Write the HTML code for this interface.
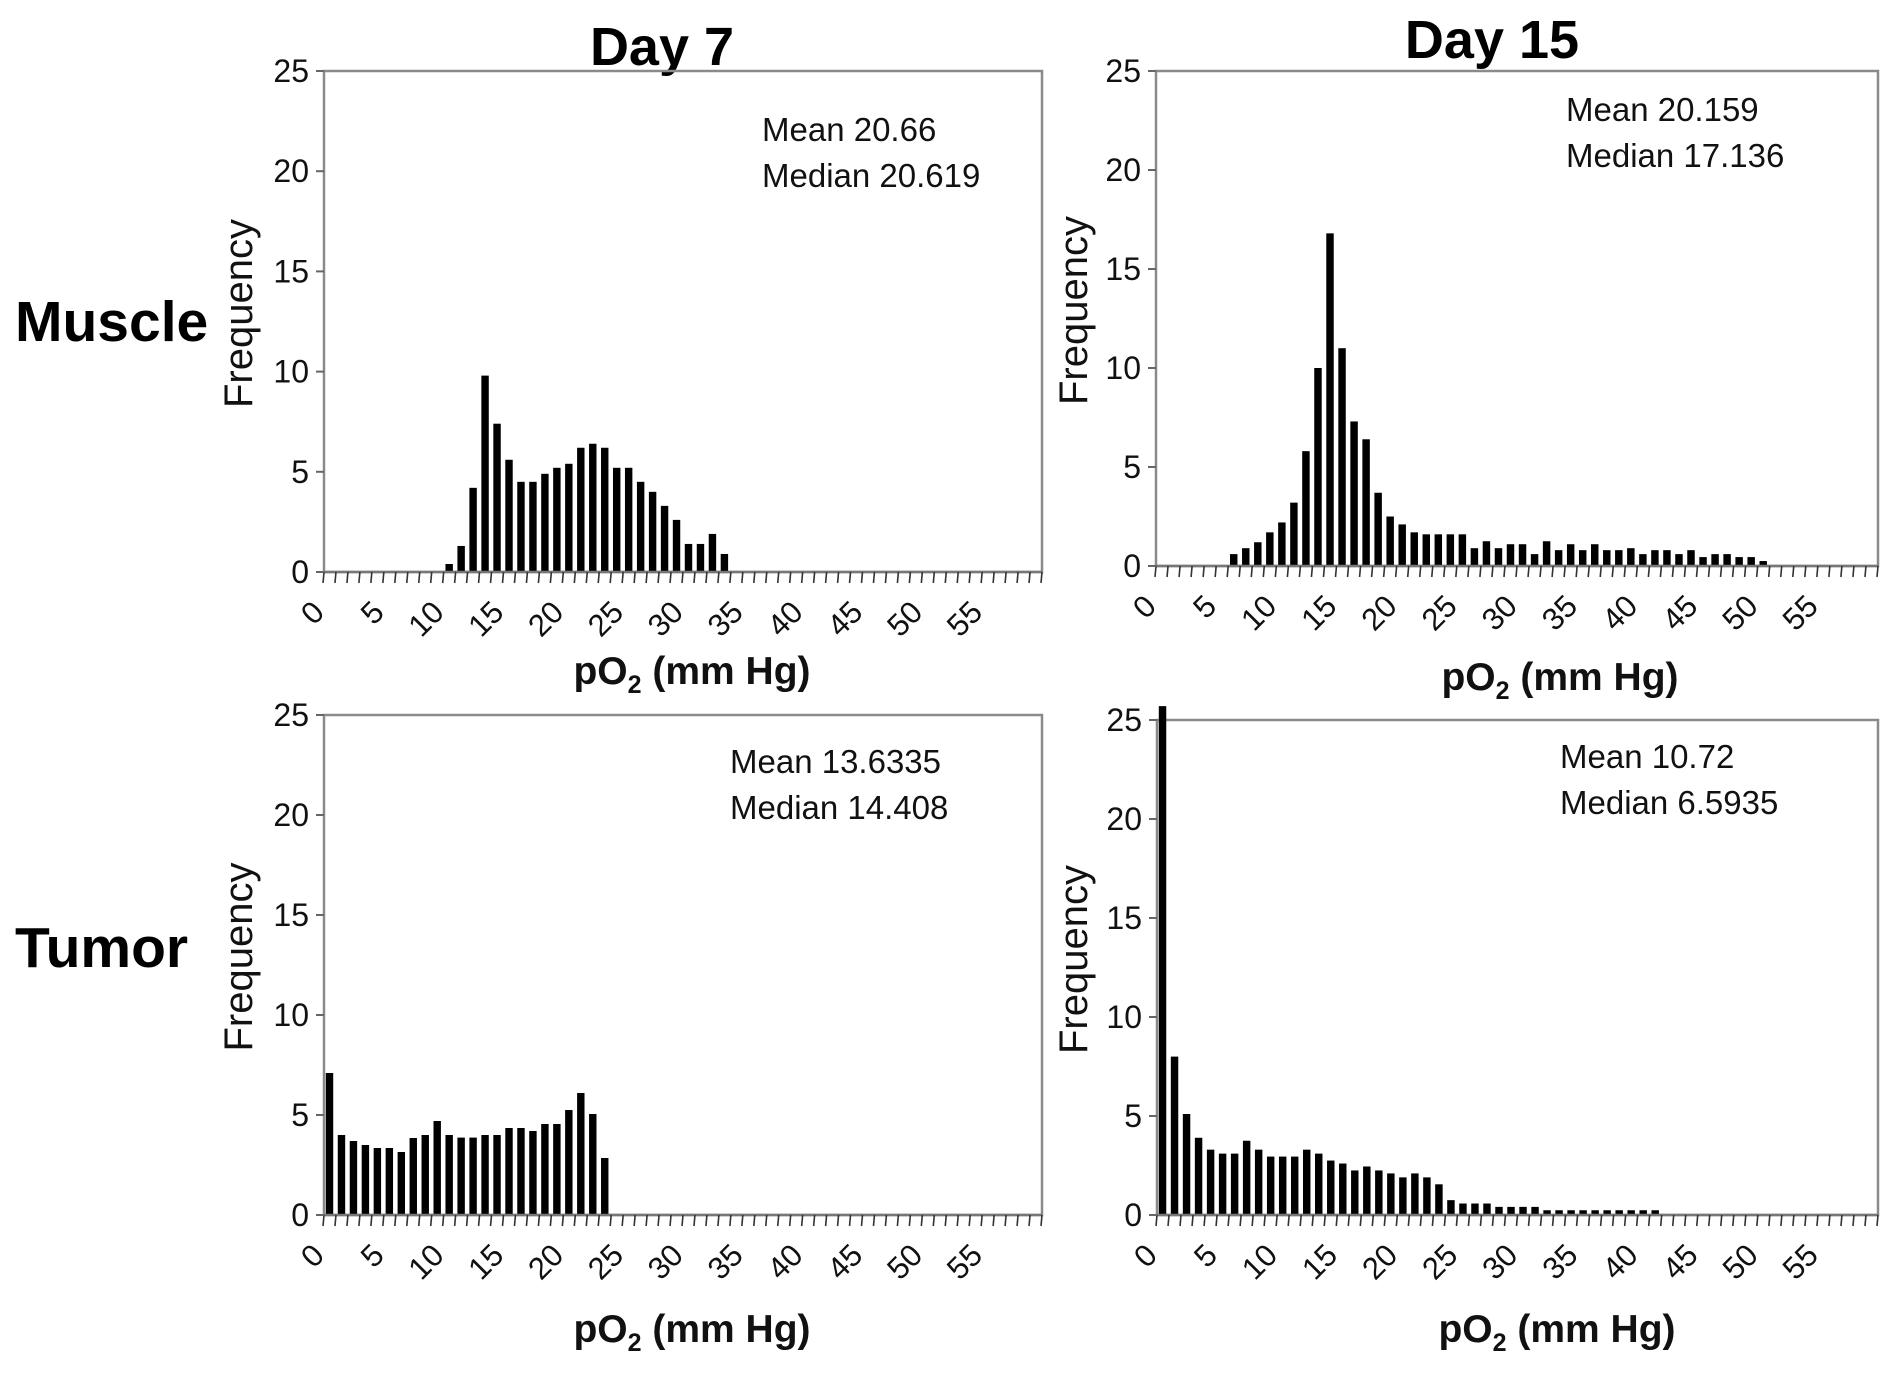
<!DOCTYPE html>
<html><head><meta charset="utf-8">
<style>
html,body{margin:0;padding:0;background:#fff;}
svg{display:block;font-family:"Liberation Sans",Arial,sans-serif;}
</style></head>
<body>
<svg id="fig" width="1890" height="1376" viewBox="0 0 1890 1376" xmlns="http://www.w3.org/2000/svg">
  <text x="662" y="65" font-size="54" font-weight="bold" text-anchor="middle">Day 7</text>
  <text x="1492" y="58" font-size="54" font-weight="bold" text-anchor="middle">Day 15</text>
  <text x="15" y="341" font-size="57" font-weight="bold">Muscle</text>
  <text x="15" y="967" font-size="57" font-weight="bold">Tumor</text>
</svg>
<script>
// categories: pO2 bins 0..59 (one bar per bin)
const binCount = 60;
const xTickLabels = ["0","5","10","15","20","25","30","35","40","45","50","55"];
const yTickLabels = ["0","5","10","15","20","25"];
const yMax = 25;
// series values (frequency), each starts at bin given in the *Start array
const muscleDay7Start = 10;
const muscleDay7 = [0.4,1.3,4.2,9.8,7.4,5.6,4.5,4.5,4.9,5.2,5.4,6.2,6.4,6.2,5.2,5.2,4.5,4.0,3.3,2.6,1.4,1.4,1.9,0.9];
const muscleDay15Start = 6;
const muscleDay15 = [0.6,0.9,1.2,1.7,2.2,3.2,5.8,10.0,16.8,11.0,7.3,6.4,3.7,2.5,2.1,1.7,1.6,1.6,1.6,1.6,0.9,1.25,0.9,1.1,1.1,0.6,1.25,0.8,1.1,0.8,1.1,0.8,0.8,0.9,0.6,0.8,0.8,0.6,0.8,0.45,0.6,0.6,0.45,0.45,0.25];
const tumorDay7Start = 0;
const tumorDay7 = [7.1,4.0,3.7,3.5,3.35,3.35,3.15,3.85,4.0,4.7,4.0,3.87,3.87,4.0,4.0,4.35,4.35,4.2,4.55,4.55,5.25,6.1,5.05,2.85];
const tumorDay15Start = 0;
const tumorDay15 = [25.7,8.0,5.1,3.9,3.3,3.1,3.1,3.75,3.3,2.95,2.95,2.95,3.3,3.1,2.75,2.6,2.25,2.45,2.25,2.1,1.9,2.1,1.9,1.55,0.75,0.58,0.58,0.58,0.41,0.41,0.41,0.41,0.24,0.24,0.24,0.24,0.24,0.24,0.24,0.24,0.24,0.24];
const meanLabels = ["Mean 20.66","Mean 20.159","Mean 13.6335","Mean 10.72"];
const medianLabels = ["Median 20.619","Median 17.136","Median 14.408","Median 6.5935"];

const NS = "http://www.w3.org/2000/svg";
const svg = document.getElementById('fig');
function mk(tag, attrs, parent){
  const e = document.createElementNS(NS, tag);
  for (const k in attrs) e.setAttribute(k, attrs[k]);
  (parent||svg).appendChild(e);
  return e;
}
const panels = [
  {id:'muscle-day7', L:324, R:1042, T:71, B:572, start:muscleDay7Start, vals:muscleDay7, mx:762, my:141, fx:252, ax:692, ay:684, mi:0},
  {id:'muscle-day15', L:1156, R:1878, T:71, B:566, start:muscleDay15Start, vals:muscleDay15, mx:1566, my:121, fx:1087, ax:1560, ay:690, mi:1},
  {id:'tumor-day7', L:324, R:1042, T:715, B:1215, start:tumorDay7Start, vals:tumorDay7, mx:730, my:773, fx:252, ax:692, ay:1342, mi:2},
  {id:'tumor-day15', L:1157, R:1878, T:720, B:1215, start:tumorDay15Start, vals:tumorDay15, mx:1560, my:768, fx:1087, ax:1557, ay:1342, mi:3}
];
panels.forEach(p => {
  const g = mk('g', {});
  
  
  const bw = (p.R - p.L) / binCount;
  const xScale = i => p.L + i * bw;
  const yScale = v => p.B - (v / yMax) * (p.B - p.T);
  const fr = mk('rect', {x:p.L, y:p.T, width:p.R-p.L, height:p.B-p.T, fill:'none', stroke:'#8a8a8a', 'stroke-width':2.5}, g);
  
  
  p.vals.forEach((v, k) => {
    const i = p.start + k;
    const r = mk('rect', {x:xScale(i)+bw*0.15, y:yScale(v), width:bw*0.62, height:p.B-yScale(v), fill:'#000'}, g);
    
    
  });
  mk('line', {x1:p.L, y1:p.B, x2:p.R, y2:p.B, stroke:'#777', 'stroke-width':2.5}, g);
  for (let i = 0; i <= binCount; i++) {
    mk('line', {x1:xScale(i), y1:p.B, x2:xScale(i)-1, y2:p.B+11, stroke:'#333', 'stroke-width':1.6}, g);
  }
  xTickLabels.forEach((lab, j) => {
    const ax = xScale(j*5) + 2, ay = p.B + 42;
    const t = mk('text', {x:ax, y:ay, 'font-size':31, 'text-anchor':'end', transform:'rotate(-45 '+ax+' '+ay+')', fill:'#111'}, g);
    t.textContent = lab;
    
    
  });
  yTickLabels.forEach((lab, j) => {
    const yy = yScale(j*5);
    mk('line', {x1:p.L-8, y1:yy, x2:p.L, y2:yy, stroke:'#666', 'stroke-width':2}, g);
    const t = mk('text', {x:p.L-15, y:yy+11, 'font-size':32, 'text-anchor':'end', fill:'#111'}, g);
    t.textContent = lab;
    
    
  });
  const cy = (p.T + p.B) / 2 - 8;
  const yt = mk('text', {x:p.fx, y:cy, 'font-size':40, 'text-anchor':'middle', transform:'rotate(-90 '+p.fx+' '+cy+')', fill:'#111'}, g);
  yt.textContent = 'Frequency';
  
  
  const xt = mk('text', {x:p.ax, y:p.ay, 'font-size':39, 'font-weight':'bold', 'text-anchor':'middle', fill:'#111'}, g);
  
  
  const s1 = mk('tspan', {}, xt); s1.textContent = 'pO';
  const s2 = mk('tspan', {'font-size':25, dy:9}, xt); s2.textContent = '2';
  const s3 = mk('tspan', {dy:-9}, xt); s3.textContent = ' (mm Hg)';
  const m1 = mk('text', {x:p.mx, y:p.my, 'font-size':33, fill:'#111'}, g);
  m1.textContent = meanLabels[p.mi];
  
  
  const m2 = mk('text', {x:p.mx, y:p.my+46, 'font-size':33, fill:'#111'}, g);
  m2.textContent = medianLabels[p.mi];
  
  
});
</script>
</body></html>
